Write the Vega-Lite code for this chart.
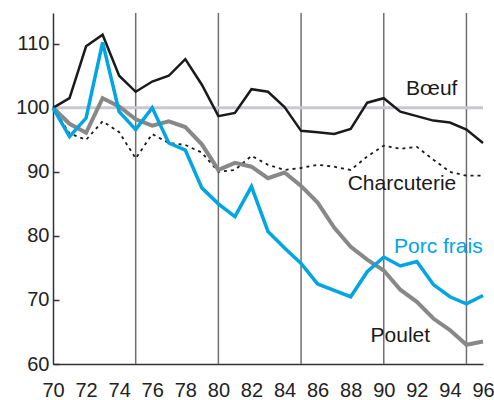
{
  "$schema": "https://vega.github.io/schema/vega-lite/v6.json",
  "width": 430,
  "height": 351,
  "autosize": "none",
  "padding": {"left": 53, "top": 13, "right": 11, "bottom": 36},
  "background": "white",
  "config": {
    "view": {"stroke": null},
    "font": "Liberation Sans",
    "axisX": {"grid": false, "ticks": false, "labelFlush": false, "labelOverlap": false, "labelFontSize": 20, "labelColor": "#222222", "labelPadding": 16, "domainColor": "#333333", "domainWidth": 1.5, "title": null},
    "axisY": {"grid": false, "tickSize": -6, "tickColor": "#333333", "tickWidth": 1.5, "labelFontSize": 20, "labelColor": "#222222", "labelPadding": 10, "domainColor": "#333333", "domainWidth": 1.5, "title": null}
  },
  "datasets": {
    "series": [
      {"year":70,"serie":"Bœuf","value":100},{"year":71,"serie":"Bœuf","value":101.5},{"year":72,"serie":"Bœuf","value":109.6},{"year":73,"serie":"Bœuf","value":111.4},{"year":74,"serie":"Bœuf","value":105},{"year":75,"serie":"Bœuf","value":102.5},{"year":76,"serie":"Bœuf","value":104.1},{"year":77,"serie":"Bœuf","value":105},{"year":78,"serie":"Bœuf","value":107.6},{"year":79,"serie":"Bœuf","value":103.6},{"year":80,"serie":"Bœuf","value":98.7},{"year":81,"serie":"Bœuf","value":99.2},{"year":82,"serie":"Bœuf","value":102.9},{"year":83,"serie":"Bœuf","value":102.5},{"year":84,"serie":"Bœuf","value":100.1},{"year":85,"serie":"Bœuf","value":96.4},{"year":86,"serie":"Bœuf","value":96.2},{"year":87,"serie":"Bœuf","value":95.9},{"year":88,"serie":"Bœuf","value":96.7},{"year":89,"serie":"Bœuf","value":100.8},{"year":90,"serie":"Bœuf","value":101.5},{"year":91,"serie":"Bœuf","value":99.4},{"year":92,"serie":"Bœuf","value":98.7},{"year":93,"serie":"Bœuf","value":98},{"year":94,"serie":"Bœuf","value":97.7},{"year":95,"serie":"Bœuf","value":96.6},{"year":96,"serie":"Bœuf","value":94.5},
      {"year":70,"serie":"Porc frais","value":100},{"year":71,"serie":"Porc frais","value":95.5},{"year":72,"serie":"Porc frais","value":98.4},{"year":73,"serie":"Porc frais","value":110.2},{"year":74,"serie":"Porc frais","value":99.4},{"year":75,"serie":"Porc frais","value":96.6},{"year":76,"serie":"Porc frais","value":100},{"year":77,"serie":"Porc frais","value":94.5},{"year":78,"serie":"Porc frais","value":93.4},{"year":79,"serie":"Porc frais","value":87.5},{"year":80,"serie":"Porc frais","value":85},{"year":81,"serie":"Porc frais","value":83},{"year":82,"serie":"Porc frais","value":87.7},{"year":83,"serie":"Porc frais","value":80.7},{"year":84,"serie":"Porc frais","value":78.1},{"year":85,"serie":"Porc frais","value":75.7},{"year":86,"serie":"Porc frais","value":72.5},{"year":87,"serie":"Porc frais","value":71.5},{"year":88,"serie":"Porc frais","value":70.5},{"year":89,"serie":"Porc frais","value":74.4},{"year":90,"serie":"Porc frais","value":76.7},{"year":91,"serie":"Porc frais","value":75.3},{"year":92,"serie":"Porc frais","value":76},{"year":93,"serie":"Porc frais","value":72.4},{"year":94,"serie":"Porc frais","value":70.5},{"year":95,"serie":"Porc frais","value":69.4},{"year":96,"serie":"Porc frais","value":70.7},
      {"year":70,"serie":"Poulet","value":100},{"year":71,"serie":"Poulet","value":97.5},{"year":72,"serie":"Poulet","value":96.1},{"year":73,"serie":"Poulet","value":101.5},{"year":74,"serie":"Poulet","value":100.2},{"year":75,"serie":"Poulet","value":98.2},{"year":76,"serie":"Poulet","value":97.2},{"year":77,"serie":"Poulet","value":97.9},{"year":78,"serie":"Poulet","value":97},{"year":79,"serie":"Poulet","value":94.3},{"year":80,"serie":"Poulet","value":90.3},{"year":81,"serie":"Poulet","value":91.4},{"year":82,"serie":"Poulet","value":90.8},{"year":83,"serie":"Poulet","value":89},{"year":84,"serie":"Poulet","value":89.9},{"year":85,"serie":"Poulet","value":87.8},{"year":86,"serie":"Poulet","value":85.2},{"year":87,"serie":"Poulet","value":81.3},{"year":88,"serie":"Poulet","value":78.3},{"year":89,"serie":"Poulet","value":76.3},{"year":90,"serie":"Poulet","value":74.6},{"year":91,"serie":"Poulet","value":71.6},{"year":92,"serie":"Poulet","value":69.7},{"year":93,"serie":"Poulet","value":67.1},{"year":94,"serie":"Poulet","value":65.3},{"year":95,"serie":"Poulet","value":63},{"year":96,"serie":"Poulet","value":63.5},
      {"year":70,"serie":"Charcuterie","value":100},{"year":71,"serie":"Charcuterie","value":96},{"year":72,"serie":"Charcuterie","value":95},{"year":73,"serie":"Charcuterie","value":97.9},{"year":74,"serie":"Charcuterie","value":96.2},{"year":75,"serie":"Charcuterie","value":92.1},{"year":76,"serie":"Charcuterie","value":95.9},{"year":77,"serie":"Charcuterie","value":94.5},{"year":78,"serie":"Charcuterie","value":94.2},{"year":79,"serie":"Charcuterie","value":93},{"year":80,"serie":"Charcuterie","value":90},{"year":81,"serie":"Charcuterie","value":90.3},{"year":82,"serie":"Charcuterie","value":92.5},{"year":83,"serie":"Charcuterie","value":91.1},{"year":84,"serie":"Charcuterie","value":90.3},{"year":85,"serie":"Charcuterie","value":90.6},{"year":86,"serie":"Charcuterie","value":91.1},{"year":87,"serie":"Charcuterie","value":90.8},{"year":88,"serie":"Charcuterie","value":90.3},{"year":89,"serie":"Charcuterie","value":92.4},{"year":90,"serie":"Charcuterie","value":94.1},{"year":91,"serie":"Charcuterie","value":93.6},{"year":92,"serie":"Charcuterie","value":93.9},{"year":93,"serie":"Charcuterie","value":91.9},{"year":94,"serie":"Charcuterie","value":90},{"year":95,"serie":"Charcuterie","value":89.4},{"year":96,"serie":"Charcuterie","value":89.4}
    ],
    "grid": [{"year":75},{"year":80},{"year":85},{"year":90},{"year":95}],
    "labels": [
      {"serie":"Bœuf","year":92.9,"value":103},
      {"serie":"Charcuterie","year":91.1,"value":88.1},
      {"serie":"Porc frais","year":93.3,"value":78.3},
      {"serie":"Poulet","year":91.0,"value":64.4}
    ]
  },
  "encoding": {
    "x": {"field": "year", "type": "quantitative", "scale": {"domain": [70, 96], "nice": false, "zero": false},
      "axis": {"values": [70,72,74,76,78,80,82,84,86,88,90,92,94,96], "labelOverlap": false}}
  },
  "layer": [
    {
      "data": {"name": "grid"},
      "mark": {"type": "rule", "color": "#707070", "strokeWidth": 1.5},
      "encoding": {}
    },
    {
      "data": {"name": "series"},
      "encoding": {
        "y": {"type": "quantitative", "scale": {"domain": [60, 114.8], "nice": false, "zero": false},
          "axis": {"values": [60,70,80,90,100,110]}}
      },
      "layer": [
        {
          "transform": [{"filter": "datum.serie === 'Bœuf'"}],
          "mark": {"type": "line", "color": "#c8c8d0", "strokeWidth": 3},
          "encoding": {"y": {"datum": 100}}
        },
        {
          "transform": [{"filter": "datum.serie === 'Charcuterie'"}],
          "mark": {"type": "line", "color": "#1a1a1a", "strokeWidth": 1.8, "strokeDash": [3, 4]},
          "encoding": {"y": {"field": "value", "type": "quantitative"}}
        },
        {
          "transform": [{"filter": "datum.serie === 'Poulet'"}],
          "mark": {"type": "line", "color": "#888888", "strokeWidth": 4},
          "encoding": {"y": {"field": "value", "type": "quantitative"}}
        },
        {
          "transform": [{"filter": "datum.serie === 'Bœuf'"}],
          "mark": {"type": "line", "color": "#1a1a1a", "strokeWidth": 2.5},
          "encoding": {"y": {"field": "value", "type": "quantitative"}}
        },
        {
          "transform": [{"filter": "datum.serie === 'Porc frais'"}],
          "mark": {"type": "line", "color": "#00a5e3", "strokeWidth": 3.5},
          "encoding": {"y": {"field": "value", "type": "quantitative"}}
        }
      ]
    },
    {
      "data": {"name": "labels"},
      "mark": {"type": "text", "fontSize": 21, "align": "center", "baseline": "middle", "font": "Liberation Sans"},
      "encoding": {
        "y": {"field": "value", "type": "quantitative"},
        "text": {"field": "serie"},
        "color": {"field": "serie", "type": "nominal", "legend": null,
          "scale": {"domain": ["Bœuf", "Charcuterie", "Porc frais", "Poulet"], "range": ["#1a1a1a", "#1a1a1a", "#00a5e3", "#1a1a1a"]}}
      }
    }
  ]
}
